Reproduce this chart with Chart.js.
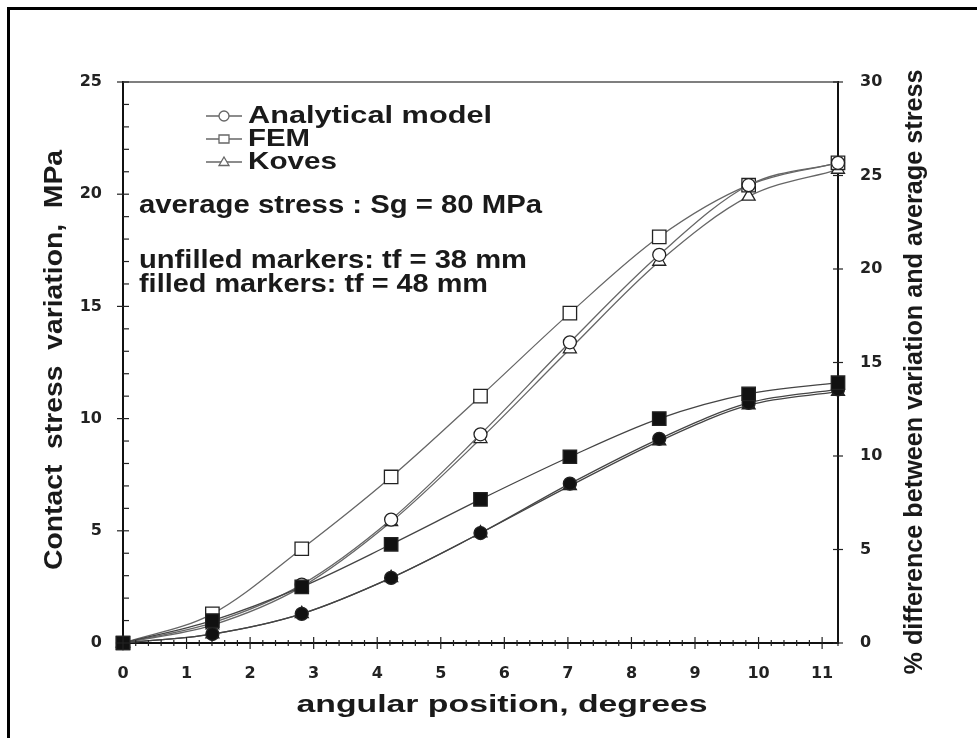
<!DOCTYPE html>
<html>
<head>
<meta charset="utf-8">
<script src="https://cdn.jsdelivr.net/npm/chart.js@4.4.0/dist/chart.umd.min.js"></script>
<style>
  html, body { margin: 0; padding: 0; background: #fff; }
  #wrap { position: relative; width: 977px; height: 738px; overflow: hidden; }
  #frame { position: absolute; left: 7px; top: 7px; width: 1100px; height: 1000px; border: 3px solid #000; box-sizing: border-box; }
  canvas { position: absolute; left: 0; top: 0; }
</style>
</head>
<body>
<div id="wrap">
  <div id="frame"></div>
  <canvas id="chart" width="977" height="738"></canvas>
</div>
<script>
// angular position, degrees
const angles = [0, 1.40625, 2.8125, 4.21875, 5.625, 7.03125, 8.4375, 9.84375, 11.25];

// tf = 38 mm (unfilled markers)
const analytical38 = [0, 0.9, 2.6, 5.5, 9.3, 13.4, 17.3, 20.4, 21.4];
const fem38        = [0, 1.3, 4.2, 7.4, 11.0, 14.7, 18.1, 20.4, 21.4];
const koves38      = [0, 0.8, 2.5, 5.4, 9.1, 13.1, 17.0, 19.9, 21.1];

// tf = 48 mm (filled markers)
const analytical48 = [0, 0.4, 1.3, 2.9, 4.9, 7.1, 9.1, 10.7, 11.3];
const fem48        = [0, 1.0, 2.5, 4.4, 6.4, 8.3, 10.0, 11.1, 11.6];
const koves48      = [0, 0.4, 1.3, 2.9, 4.9, 7.0, 9.0, 10.6, 11.2];

const seriesNames = ['Analytical model', 'FEM', 'Koves'];
const seriesStyles = ['circle', 'rect', 'triangle'];
const notes = ['average stress : Sg = 80 MPa', 'unfilled markers: tf = 38 mm', 'filled markers: tf = 48 mm'];

const isInt = v => Math.abs(v - Math.round(v)) < 1e-6;
const pts = ys => angles.map((a, i) => ({ x: a, y: ys[i] }));

function series(label, ys, style, filled) {
  return {
    label: label,
    data: pts(ys),
    borderColor: filled ? '#444' : '#666',
    borderWidth: 1.3,
    pointStyle: style,
    pointRadius: style == 'rect' ? 9.5 : (style == 'circle' ? 6.5 : 7.5),
    pointBorderWidth: 1.3,
    pointBorderColor: '#222',
    pointBackgroundColor: filled ? '#111' : '#fff',
    cubicInterpolationMode: 'monotone',
    clip: false
  };
}

// text squeezed/stretched to the width it has in the figure
function fitText(ctx, text, cx, cy, width, size, weight, rot, thick) {
  ctx.save();
  ctx.font = weight + ' ' + size + 'px "Liberation Sans", Arial, sans-serif';
  const w = ctx.measureText(text).width;
  ctx.translate(cx, cy);
  ctx.rotate(rot || 0);
  ctx.scale(width / w, thick || 1);
  ctx.textAlign = 'center';
  ctx.textBaseline = 'middle';
  ctx.fillStyle = '#1a1a1a';
  ctx.fillText(text, 0, 0);
  ctx.restore();
}

function leftText(ctx, text, x, base, width, size) {
  ctx.save();
  ctx.font = 'bold ' + size + 'px "Liberation Sans", Arial, sans-serif';
  const w = ctx.measureText(text).width;
  ctx.translate(x, base);
  ctx.scale(width / w, 1);
  ctx.textAlign = 'left';
  ctx.textBaseline = 'alphabetic';
  ctx.fillStyle = '#1a1a1a';
  ctx.fillText(text, 0, 0);
  ctx.restore();
}

function marker(ctx, style, x, y, r) {
  ctx.beginPath();
  if (style == 'circle') {
    ctx.arc(x, y, r, 0, Math.PI * 2);
  } else if (style == 'rect') {
    ctx.rect(x - r, y - r * 0.8, 2 * r, 1.6 * r);
  } else {
    ctx.moveTo(x, y - r);
    ctx.lineTo(x + r, y + r * 0.7);
    ctx.lineTo(x - r, y + r * 0.7);
    ctx.closePath();
  }
  ctx.fill();
  ctx.stroke();
}

const tickMarks = {
  id: 'tickMarks',
  afterDraw(chart) {
    const ctx = chart.ctx;
    const a = chart.chartArea;
    ctx.save();
    ctx.strokeStyle = '#555';
    ctx.lineWidth = 1.5;
    ctx.beginPath();
    ctx.moveTo(a.left, a.top);
    ctx.lineTo(a.right, a.top);
    ctx.stroke();

    ctx.strokeStyle = '#222';
    ctx.lineWidth = 1.2;
    const xs = chart.scales.x;
    xs.ticks.forEach(t => {
      const p = xs.getPixelForValue(t.value);
      const h = isInt(t.value) ? 6 : 3;
      ctx.beginPath();
      ctx.moveTo(p, a.bottom - h);
      ctx.lineTo(p, a.bottom + h);
      ctx.stroke();
    });
    const ys = chart.scales.y;
    ys.ticks.forEach(t => {
      const p = ys.getPixelForValue(t.value);
      const major = isInt(t.value / 5);
      ctx.beginPath();
      ctx.moveTo(a.left - (major ? 6 : 0), p);
      ctx.lineTo(a.left + 6, p);
      ctx.stroke();
    });
    const y2 = chart.scales.y2;
    y2.ticks.forEach(t => {
      const p = y2.getPixelForValue(t.value);
      ctx.beginPath();
      ctx.moveTo(a.right - 5, p);
      ctx.lineTo(a.right + 5, p);
      ctx.stroke();
    });
    ctx.restore();
  }
};

const annotations = {
  id: 'annotations',
  afterDraw(chart) {
    const ctx = chart.ctx;
    // legend
    const rows = [123, 146, 169];
    const widths = [244, 62, 89];
    ctx.save();
    ctx.strokeStyle = '#666';
    ctx.fillStyle = '#fff';
    ctx.lineWidth = 1.3;
    seriesNames.forEach((name, i) => {
      const cy = rows[i] - 7;
      ctx.beginPath();
      ctx.moveTo(206, cy);
      ctx.lineTo(242, cy);
      ctx.stroke();
      marker(ctx, seriesStyles[i], 224, cy, 5);
      leftText(ctx, name, 248, rows[i], widths[i], 24);
    });
    ctx.restore();

    leftText(ctx, notes[0], 139, 213, 403, 25);
    leftText(ctx, notes[1], 139, 268, 388, 25);
    leftText(ctx, notes[2], 139, 292, 349, 25);

    // axis titles
    fitText(ctx, 'angular position, degrees', 502, 706, 411, 23, 'bold', 0, 1);
    fitText(ctx, 'Contact  stress  variation,  MPa', 55, 360, 420, 22, 'bold', -Math.PI / 2, 1.2);
    fitText(ctx, '% difference between variation and average stress', 915, 372, 605, 22, 'bold', -Math.PI / 2, 1.2);
  }
};

const tickFont = { family: '"DejaVu Sans", sans-serif', weight: 'bold', size: 16 };

new Chart(document.getElementById('chart'), {
  type: 'line',
  data: {
    // filled (tf = 48 mm) first so they sit on top where the series meet
    datasets: [
      series(seriesNames[1], fem48, 'rect', true),
      series(seriesNames[0], analytical48, 'circle', true),
      series(seriesNames[2], koves48, 'triangle', true),
      series(seriesNames[0], analytical38, 'circle', false),
      series(seriesNames[1], fem38, 'rect', false),
      series(seriesNames[2], koves38, 'triangle', false)
    ]
  },
  options: {
    responsive: false,
    animation: false,
    layout: { padding: { top: 82, left: 0, right: 0, bottom: 0 } },
    plugins: { legend: { display: false }, tooltip: { enabled: false } },
    scales: {
      x: {
        type: 'linear',
        position: 'bottom',
        min: 0,
        max: 11.25,
        grid: { display: false, drawTicks: false },
        border: { display: true, color: '#111', width: 2 },
        ticks: {
          stepSize: 0.2,
          autoSkip: false,
          maxRotation: 0,
          padding: 21,
          color: '#222',
          font: tickFont,
          callback: v => isInt(v) ? String(Math.round(v)) : ''
        },
        afterFit: s => { s.height = 95; }
      },
      y: {
        position: 'left',
        min: 0,
        max: 25,
        grid: { display: false, drawTicks: false },
        border: { display: true, color: '#111', width: 2 },
        ticks: {
          stepSize: 1,
          autoSkip: false,
          padding: 21,
          color: '#222',
          font: tickFont,
          callback: v => isInt(v / 5) ? String(v) : ''
        },
        afterFit: s => { s.width = 123; }
      },
      y2: {
        position: 'right',
        min: 0,
        max: 30,
        grid: { display: false, drawTicks: false },
        border: { display: true, color: '#111', width: 2 },
        ticks: {
          stepSize: 5,
          padding: 22,
          color: '#222',
          font: tickFont
        },
        afterFit: s => { s.width = 139; }
      }
    }
  },
  plugins: [tickMarks, annotations]
});
</script>
</body>
</html>
